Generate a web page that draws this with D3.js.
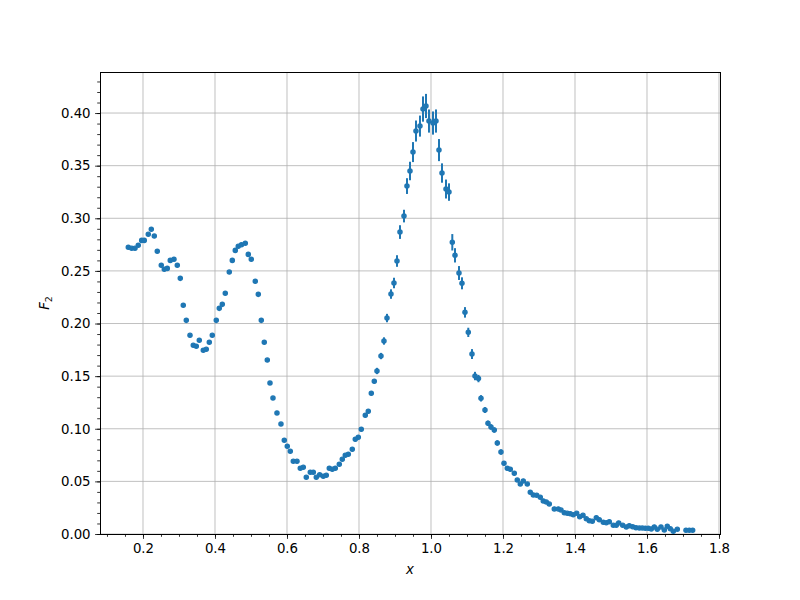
<!DOCTYPE html>
<html>
<head>
<meta charset="utf-8">
<script src="https://cdn.jsdelivr.net/npm/d3@7"></script>
<style>
  body { margin: 0; background: #fff; }
  text { font-family: "DejaVu Sans", sans-serif; }
</style>
</head>
<body>
<svg id="chart" width="800" height="600"></svg>
<script>
const xValues = [
  0.1592,0.1686,0.1778,0.1869,0.1964,0.2036,0.2147,0.2231,0.2314,0.2397,
  0.2508,0.2592,0.2675,0.2758,0.2861,0.2953,0.3036,0.3119,0.3203,0.3306,
  0.3397,0.3481,0.3564,0.3675,0.3758,0.3842,0.3925,0.4036,0.4119,0.4203,
  0.4286,0.4397,0.4481,0.4564,0.4647,0.4736,0.4842,0.4925,0.5008,0.5119,
  0.5203,0.5286,0.5369,0.5453,0.5528,0.5611,0.5722,0.5833,0.5925,0.6008,
  0.6092,0.6175,0.6278,0.6369,0.6453,0.6536,0.6647,0.6731,0.6814,0.6908,
  0.7008,0.7092,0.7175,0.7258,0.7342,0.7453,0.7536,0.7619,0.7703,0.7814,
  0.7897,0.7981,0.8064,0.8175,0.8258,0.8342,0.8425,0.8500,0.8611,0.8694,
  0.8778,0.8889,0.8972,0.9056,0.9139,0.9250,0.9333,0.9417,0.9500,0.9583,
  0.9694,0.9778,0.9861,0.9944,1.0056,1.0139,1.0222,1.0306,1.0417,1.0500,
  1.0592,1.0667,1.0778,1.0861,1.0944,1.1036,1.1139,1.1222,1.1319,1.1389,
  1.1500,1.1583,1.1667,1.1758,1.1842,1.1944,1.2028,1.2119,1.2203,1.2314,
  1.2397,1.2481,1.2564,1.2675,1.2758,1.2842,1.2936,1.3036,1.3119,1.3203,
  1.3286,1.3425,1.3536,1.3611,1.3703,1.3786,1.3869,1.3953,1.4047,1.4131,
  1.4222,1.4314,1.4397,1.4481,1.4592,1.4675,1.4786,1.4869,1.4953,1.5064,
  1.5147,1.5214,1.5325,1.5425,1.5508,1.5603,1.5694,1.5786,1.5869,1.5953,
  1.6036,1.6119,1.6203,1.6286,1.6389,1.6481,1.6564,1.6647,1.6731,1.6842,
  1.7083,1.7175,1.7269
];
const f2Values = [
  0.2724,0.2715,0.2715,0.2743,0.2790,0.2790,0.2848,0.2895,0.2831,0.2686,
  0.2553,0.2515,0.2524,0.2600,0.2610,0.2553,0.2429,0.2173,0.2030,0.1888,
  0.1793,0.1783,0.1840,0.1745,0.1755,0.1821,0.1888,0.2030,0.2144,0.2182,
  0.2287,0.2489,0.2600,0.2695,0.2734,0.2749,0.2762,0.2657,0.2610,0.2401,
  0.2277,0.2030,0.1821,0.1653,0.1435,0.1292,0.1150,0.1045,0.0890,0.0833,
  0.0786,0.0691,0.0691,0.0624,0.0634,0.0539,0.0586,0.0586,0.0539,0.0563,
  0.0548,0.0558,0.0624,0.0615,0.0624,0.0662,0.0710,0.0748,0.0757,0.0805,
  0.0900,0.0919,0.0995,0.1128,0.1166,0.1337,0.1451,0.1549,0.1691,0.1834,
  0.2052,0.2280,0.2385,0.2594,0.2869,0.3021,0.3306,0.3449,0.3629,0.3829,
  0.3876,0.4038,0.4067,0.3924,0.3905,0.3924,0.3648,0.3430,0.3278,0.3249,
  0.2772,0.2648,0.2480,0.2382,0.2106,0.1916,0.1710,0.1501,0.1477,0.1289,
  0.1178,0.1052,0.1017,0.0988,0.0865,0.0779,0.0672,0.0624,0.0615,0.0577,
  0.0513,0.0475,0.0504,0.0475,0.0396,0.0371,0.0368,0.0349,0.0314,0.0304,
  0.0285,0.0238,0.0238,0.0228,0.0202,0.0197,0.0193,0.0183,0.0197,0.0164,
  0.0178,0.0145,0.0126,0.0121,0.0155,0.0136,0.0111,0.0107,0.0117,0.0083,
  0.0083,0.0105,0.0083,0.0067,0.0079,0.0069,0.0060,0.0057,0.0057,0.0054,
  0.0054,0.0048,0.0067,0.0045,0.0067,0.0038,0.0073,0.0050,0.0026,0.0045,
  0.0035,0.0035,0.0035
];
const f2Errors = [
  0.0015,0.0015,0.0015,0.0015,0.0015,0.0015,0.0015,0.0015,0.0015,0.0015,
  0.0015,0.0015,0.0015,0.0015,0.0015,0.0015,0.0015,0.0015,0.0015,0.0015,
  0.0015,0.0015,0.0015,0.0015,0.0015,0.0015,0.0015,0.0015,0.0015,0.0015,
  0.0015,0.0015,0.0015,0.0015,0.0015,0.0015,0.0015,0.0015,0.0015,0.0015,
  0.0015,0.0015,0.0015,0.0015,0.0015,0.0015,0.0015,0.0015,0.0015,0.0015,
  0.0015,0.0015,0.0015,0.0015,0.0015,0.0015,0.0015,0.0015,0.0015,0.0015,
  0.0015,0.0015,0.0015,0.0015,0.0015,0.0015,0.0015,0.0015,0.0015,0.0020,
  0.0020,0.0020,0.0020,0.0020,0.0020,0.0020,0.0020,0.0030,0.0030,0.0035,
  0.0040,0.0045,0.0050,0.0055,0.0065,0.0060,0.0075,0.0087,0.0095,0.0100,
  0.0100,0.0120,0.0115,0.0110,0.0110,0.0110,0.0105,0.0092,0.0090,0.0083,
  0.0078,0.0068,0.0066,0.0057,0.0050,0.0044,0.0047,0.0040,0.0035,0.0030,
  0.0028,0.0025,0.0025,0.0025,0.0025,0.0025,0.0020,0.0020,0.0020,0.0020,
  0.0015,0.0015,0.0015,0.0015,0.0015,0.0015,0.0015,0.0015,0.0015,0.0015,
  0.0010,0.0010,0.0010,0.0010,0.0010,0.0010,0.0010,0.0010,0.0010,0.0010,
  0.0010,0.0010,0.0010,0.0010,0.0010,0.0010,0.0010,0.0010,0.0010,0.0010,
  0.0010,0.0010,0.0010,0.0010,0.0010,0.0010,0.0010,0.0010,0.0010,0.0010,
  0.0010,0.0010,0.0010,0.0010,0.0010,0.0010,0.0010,0.0010,0.0010,0.0010,
  0.0010,0.0010,0.0010
];
const xTicks = [0.2,0.4,0.6,0.8,1.0,1.2,1.4,1.6,1.8];
const yTicks = [0.00,0.05,0.10,0.15,0.20,0.25,0.30,0.35,0.40];
const xDomain = [0.0806, 1.8028];
const yDomain = [0, 0.439];

const svg = d3.select("#chart");
const margin = {left: 100, right: 80, top: 72, bottom: 66};
const W = 800, H = 600;
const x = d3.scaleLinear().domain(xDomain).range([margin.left, W - margin.right]);
const y = d3.scaleLinear().domain(yDomain).range([H - margin.bottom, margin.top]);
const color = "#1f77b4";

const data = xValues.map((v, i) => ({x: v, y: f2Values[i], e: f2Errors[i]}));

// grid
const grid = svg.append("g");
grid.selectAll("line.gx").data(xTicks).join("line")
  .attr("x1", d => x(d)).attr("x2", d => x(d))
  .attr("y1", y.range()[0]).attr("y2", y.range()[1])
  .attr("stroke", "#b0b0b0").attr("stroke-width", 0.8);
grid.selectAll("line.gy").data(yTicks).join("line")
  .attr("y1", d => y(d)).attr("y2", d => y(d))
  .attr("x1", x.range()[0]).attr("x2", x.range()[1])
  .attr("stroke", "#b0b0b0").attr("stroke-width", 0.8);

// error bars
svg.append("g").selectAll("line").data(data).join("line")
  .attr("x1", d => x(d.x)).attr("x2", d => x(d.x))
  .attr("y1", d => y(d.y - d.e)).attr("y2", d => y(d.y + d.e))
  .attr("stroke", color).attr("stroke-width", 2);

// points
svg.append("g").selectAll("circle").data(data).join("circle")
  .attr("cx", d => x(d.x)).attr("cy", d => y(d.y))
  .attr("r", 2.1).attr("fill", color)
  .attr("stroke", color).attr("stroke-width", 1.33);

// axes
const fmtX = d3.format(".1f"), fmtY = d3.format(".2f");
const xMinor = d3.range(0.1, 1.801, 0.05).filter(v => v >= xDomain[0] && v <= xDomain[1]);
const yMinor = d3.range(0, 0.4391, 0.01);

const xAxis = svg.append("g").attr("transform", `translate(0,${y.range()[0]})`)
  .call(d3.axisBottom(x).tickValues(xTicks).tickFormat(fmtX).tickSize(4.9).tickPadding(4.5));
const xAxisMinor = svg.append("g").attr("transform", `translate(0,${y.range()[0]})`)
  .call(d3.axisBottom(x).tickValues(xMinor).tickFormat("").tickSize(2.8));
const yAxis = svg.append("g").attr("transform", `translate(${x.range()[0]},0)`)
  .call(d3.axisLeft(y).tickValues(yTicks).tickFormat(fmtY).tickSize(4.9).tickPadding(4.5));
const yAxisMinor = svg.append("g").attr("transform", `translate(${x.range()[0]},0)`)
  .call(d3.axisLeft(y).tickValues(yMinor).tickFormat("").tickSize(2.8));

[xAxis, xAxisMinor, yAxis, yAxisMinor].forEach(g => {
  g.select(".domain").remove();
  g.selectAll("line").attr("stroke", "#000").attr("stroke-width", 0.8);
  g.selectAll("text").attr("fill", "#000").style("font-size", "13.33px")
    .style("font-family", "'DejaVu Sans', sans-serif");
});

// frame
svg.append("rect")
  .attr("x", x.range()[0]).attr("y", y.range()[1])
  .attr("width", x.range()[1] - x.range()[0])
  .attr("height", y.range()[0] - y.range()[1])
  .attr("fill", "none").attr("stroke", "#000").attr("stroke-width", 1)
  .attr("shape-rendering", "crispEdges");

// labels
svg.append("text").attr("x", (x.range()[0] + x.range()[1]) / 2).attr("y", 574)
  .attr("text-anchor", "middle").style("font-size", "13.33px").style("font-style", "italic")
  .text("x");

const yl = svg.append("text")
  .attr("transform", `translate(49,${(y.range()[0] + y.range()[1]) / 2}) rotate(-90)`)
  .attr("text-anchor", "middle").style("font-size", "13.33px");
yl.append("tspan").style("font-style", "italic").text("F");
yl.append("tspan").attr("dy", 3).style("font-size", "9.5px").text("2");
</script>
</body>
</html>
